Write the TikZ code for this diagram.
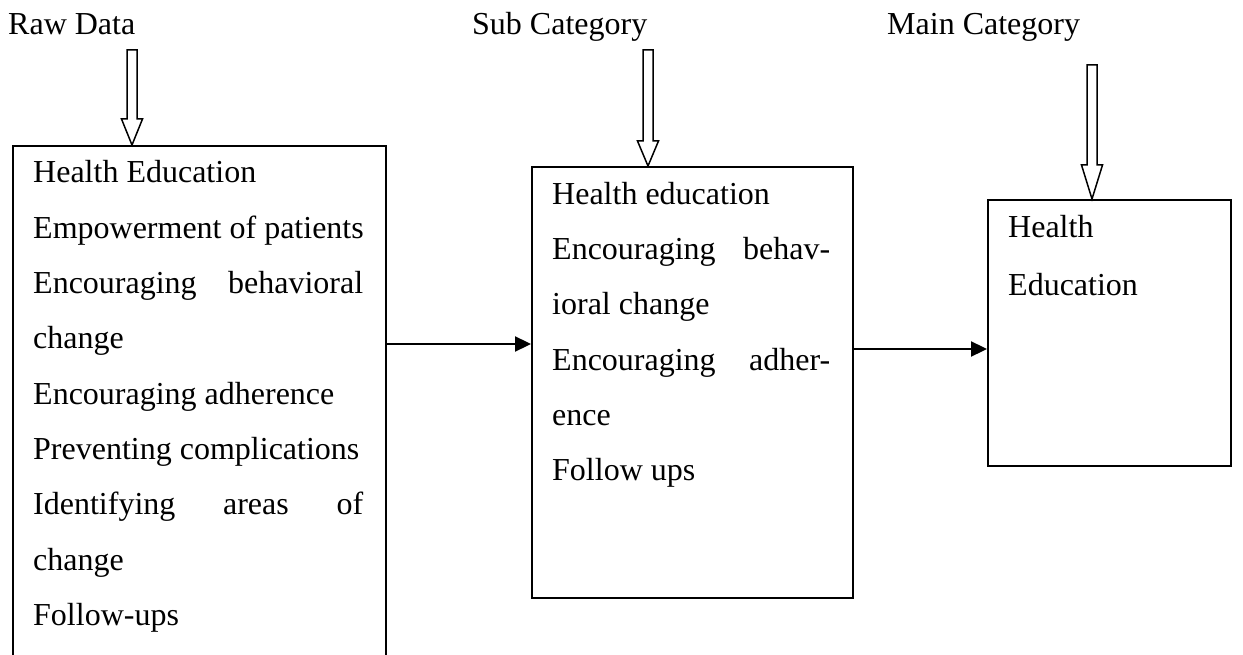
\documentclass[tikz,border=0pt]{standalone}
\usepackage{fontspec}
\setmainfont{Liberation Serif}
\usetikzlibrary{arrows.meta,calc}
\tikzset{
  box/.style={draw, line width=2pt, rectangle, inner sep=0pt, anchor=north west},
  txt/.style={anchor=base west, inner sep=0pt, font=\fontsize{32}{38}\selectfont},
  conn/.style={line width=2.3pt, -{Triangle[length=16pt,width=15pt]}},
  hollow/.style={draw, line width=1.5pt, fill=white, line join=miter},
}
% #1 x, #2 shaft top y, #3 head length, #4 label node, #5 target box
\newcommand\hollowdown[5]{%
  \draw[hollow] let \p1=(#5.north) in
    (#1-5,#2) -- (#1+5,#2) -- (#1+5,\y1+#3) -- (#1+10.5,\y1+#3) -- (#1,\y1)
    -- (#1-10.5,\y1+#3) -- (#1-5,\y1+#3) -- cycle;}
\begin{document}
\begin{tikzpicture}[x=1pt,y=1pt]
\useasboundingbox (0,0) rectangle (1243,-655);
\clip (0,0) rectangle (1243,-655);

% header labels
\node[txt] (l1) at (8,-35) {Raw Data};
\node[txt] (l2) at (472,-35) {Sub Category};
\node[txt] (l3) at (887,-35) {Main Category};

% boxes
\node[box, minimum width=373pt, minimum height=560pt] (b1) at (12,-145) {};
\node[box, minimum width=321pt, minimum height=431pt] (b2) at (531,-166) {};
\node[box, minimum width=243pt, minimum height=266pt] (b3) at (987,-199) {};

% box 1 text
\node[txt] (t11) at (33,-183)   {Health Education};
\node[txt] (t12) at (33,-238.3) {Empowerment of patients};
\node[txt] (t13) at (33,-293.6) {\makebox[330pt][s]{Encouraging behavioral}};
\node[txt] (t14) at (33,-348.9) {change};
\node[txt] (t15) at (33,-404.2) {Encouraging adherence};
\node[txt] (t16) at (33,-459.5) {Preventing complications};
\node[txt] (t17) at (33,-514.8) {\makebox[330pt][s]{Identifying areas of}};
\node[txt] (t18) at (33,-570.1) {change};
\node[txt] (t19) at (33,-625.4) {Follow-ups};

% box 2 text
\node[txt] (t21) at (552,-205) {Health education};
\node[txt] (t22) at (552,-260) {\makebox[278pt][s]{Encouraging behav-}};
\node[txt] (t23) at (552,-315) {ioral change};
\node[txt] (t24) at (552,-370) {\makebox[278pt][s]{Encouraging adher-}};
\node[txt] (t25) at (552,-425) {ence};
\node[txt] (t26) at (552,-480) {Follow ups};

% box 3 text
\node[txt] (t31) at (1008,-238) {Health};
\node[txt] (t32) at (1008,-295) {Education};

% hollow down arrows
\hollowdown{132}{-50}{26}{l1}{b1}
\hollowdown{648}{-50}{25}{l2}{b2}
\hollowdown{1092}{-65}{34}{l3}{b3}

% connectors
\coordinate (h1) at (0,-344);
\coordinate (h2) at (0,-349);
\draw[conn] (b1.east |- h1) -- (b2.west |- h1);
\draw[conn] (b2.east |- h2) -- (b3.west |- h2);
\end{tikzpicture}
\end{document}
